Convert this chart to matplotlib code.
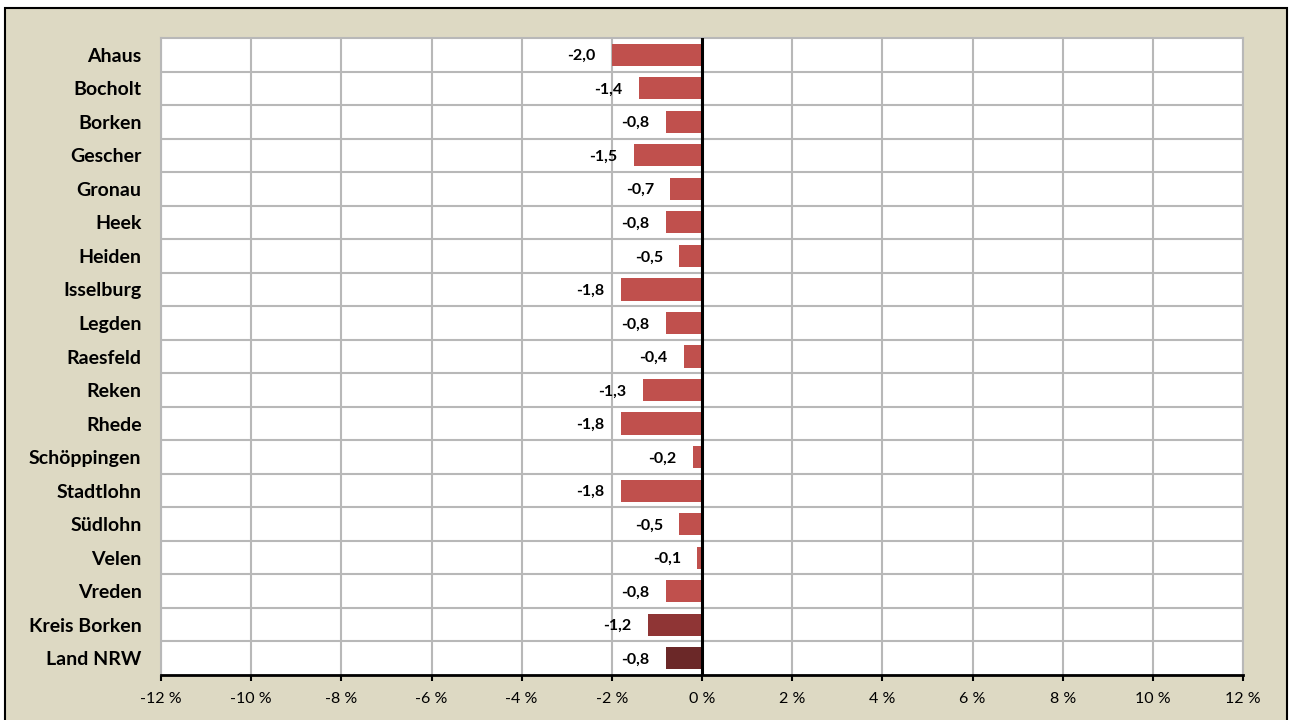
import matplotlib
matplotlib.use("Agg")
import matplotlib.pyplot as plt
from matplotlib.patches import Rectangle
from matplotlib.ticker import FixedLocator

categories = ["Ahaus", "Bocholt", "Borken", "Gescher", "Gronau", "Heek", "Heiden",
              "Isselburg", "Legden", "Raesfeld", "Reken", "Rhede", "Schöppingen",
              "Stadtlohn", "Südlohn", "Velen", "Vreden", "Kreis Borken", "Land NRW"]
values = [-2.0, -1.4, -0.8, -1.5, -0.7, -0.8, -0.5, -1.8, -0.8, -0.4, -1.3, -1.8,
          -0.2, -1.8, -0.5, -0.1, -0.8, -1.2, -0.8]
xticks = [-12, -10, -8, -6, -4, -2, 0, 2, 4, 6, 8, 10, 12]

colors = ["#C0504D"] * 17 + ["#8F3535", "#6B2828"]

plt.rcParams['font.family'] = ['Lato', 'DejaVu Sans']

fig = plt.figure(figsize=(12.92, 7.2), dpi=100)
fig.patch.set_facecolor("white")
bg = Rectangle((5 / 1292, -0.02), (1287 - 5) / 1292, 1 - 8 / 720 + 0.02,
               transform=fig.transFigure, facecolor="#DDD9C3", edgecolor="black",
               linewidth=1.5, zorder=-10)
fig.add_artist(bg)

ax = fig.add_axes([161 / 1292, 1 - 675 / 720, (1243 - 161) / 1292, (675 - 38) / 720])
ax.set_facecolor("white")

n = len(categories)
ypos = list(range(n))
ax.barh(ypos, values, height=0.66, color=colors, zorder=3)

ax.set_xlim(-12, 12)
ax.set_ylim(n - 0.5, -0.5)
ax.set_xticks(xticks)
ax.set_xticklabels([f"{t} %" for t in xticks], fontsize=11.5)
ax.set_yticks(ypos)
ax.set_yticklabels(categories, fontsize=14, fontweight="bold")
ax.yaxis.set_minor_locator(FixedLocator([i + 0.5 for i in range(n - 1)]))

ax.grid(True, axis="x", which="major", color="#B8B8B8", linewidth=1.5, zorder=1)
ax.grid(True, axis="y", which="minor", color="#B8B8B8", linewidth=1.5, zorder=1)
ax.tick_params(axis="y", which="both", length=0, pad=14)
ax.tick_params(axis="x", length=4, width=1.5, direction="out", pad=8, color="black")

for s in ["top", "left", "right"]:
    ax.spines[s].set_color("#B8B8B8")
    ax.spines[s].set_linewidth(1.5)
ax.spines["bottom"].set_color("black")
ax.spines["bottom"].set_linewidth(2)
ax.axvline(0, color="black", linewidth=2.2, zorder=4)

for y, v in zip(ypos, values):
    ax.annotate(f"{v:.1f}".replace(".", ","), xy=(v, y), xytext=(-12, -1),
                textcoords="offset points", ha="right", va="center",
                fontsize=11.5, fontweight="bold", zorder=5)

fig.savefig("out.png", dpi=100)
